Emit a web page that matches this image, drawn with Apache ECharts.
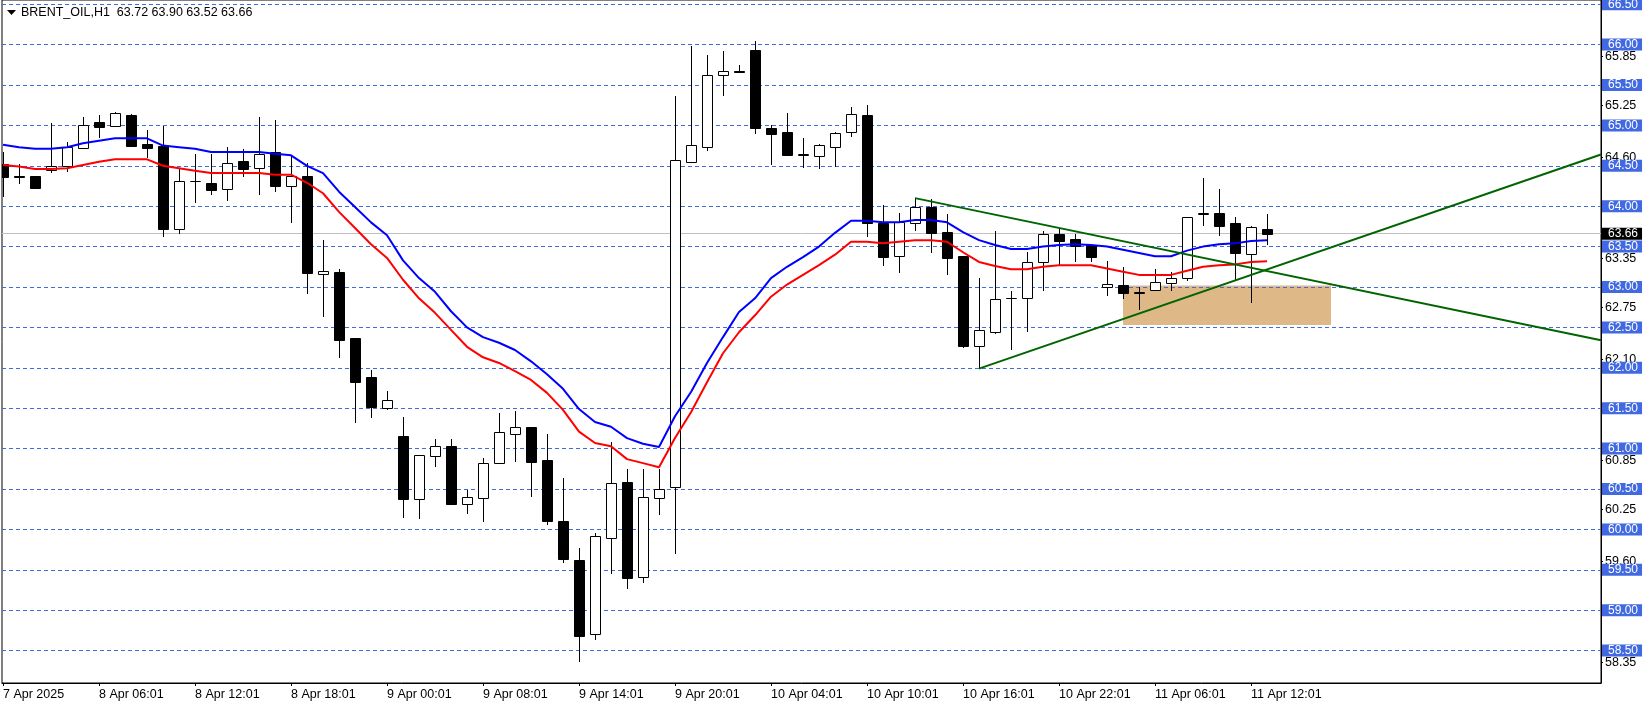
<!DOCTYPE html>
<html><head><meta charset="utf-8">
<script src="https://cdn.jsdelivr.net/npm/echarts@6/dist/echarts.min.js"></script>
<style>html,body{margin:0;padding:0;background:#fff}#c{width:1651px;height:707px}</style>
</head><body><div id="c"></div>
<script>
const symbolName = 'BRENT_OIL,H1';
const lastOHLC = [63.72, 63.90, 63.52, 63.66];
const opens = [64.52,64.37,64.37,64.45,64.50,64.72,65.04,64.99,65.13,64.77,
64.75,63.72,64.31,64.29,64.21,64.56,64.47,64.67,64.25,64.37,
63.16,63.19,62.37,61.89,61.50,61.16,60.38,60.91,61.03,60.31,
60.39,60.82,61.18,61.27,60.86,60.10,59.62,58.71,59.89,60.59,
59.41,60.39,60.52,64.55,64.73,65.62,65.67,65.93,64.97,64.92,
64.63,64.62,64.73,64.92,65.13,63.79,63.38,63.79,63.99,63.68,
63.38,62.27,62.44,62.86,62.86,63.31,63.66,63.60,63.52,63.00,
63.02,62.93,62.96,63.05,63.11,63.90,63.92,63.79,63.41,63.72];
const highs = [64.67,64.52,64.37,65.03,64.79,65.10,65.13,65.16,65.14,64.94,
64.99,64.47,64.64,64.64,64.73,64.71,65.10,65.07,64.62,64.53,
63.58,63.22,62.37,61.97,61.71,61.39,60.92,61.12,61.12,60.49,
60.88,61.44,61.47,61.27,61.18,60.64,59.77,59.95,61.08,60.75,
60.75,60.75,65.36,65.98,65.87,65.92,65.75,66.04,65.00,65.15,
64.84,64.77,64.92,65.23,65.25,64.02,63.92,64.10,64.09,63.90,
63.38,63.11,63.69,62.95,63.43,63.69,63.73,63.65,63.52,63.32,
63.25,63.00,63.22,63.19,63.87,64.35,64.21,63.87,63.75,63.90];
const lows = [64.11,64.28,64.21,64.41,64.42,64.72,64.85,64.98,64.75,64.60,
63.62,63.65,64.04,64.14,64.07,64.36,64.14,64.17,63.79,62.91,
62.63,62.12,61.32,61.38,61.48,60.14,60.13,60.77,60.30,60.19,
60.09,60.81,60.83,60.40,60.06,59.59,58.36,58.63,59.45,59.26,
59.34,60.18,59.70,64.55,64.68,65.36,65.65,64.89,64.51,64.62,
64.47,64.46,64.49,64.86,63.62,63.26,63.17,63.69,63.42,63.15,
62.25,61.99,62.42,62.22,62.44,62.95,63.27,63.31,63.31,62.89,
62.85,62.72,62.95,62.95,63.07,63.75,63.63,63.09,62.80,63.52];
const closes = [64.36,64.36,64.22,64.50,64.73,65.00,64.98,65.15,64.75,64.72,
63.72,64.31,64.31,64.20,64.54,64.46,64.64,64.25,64.37,63.17,
63.20,62.34,61.82,61.51,61.60,60.38,60.92,61.03,60.31,60.40,
60.82,61.21,61.27,60.83,60.10,59.63,58.68,59.92,60.57,59.40,
60.40,60.50,64.57,64.76,65.62,65.67,65.66,64.97,64.89,64.63,
64.64,64.76,64.91,65.14,63.79,63.37,63.80,63.99,63.67,63.36,
62.27,62.47,62.85,62.86,63.31,63.66,63.57,63.51,63.37,63.04,
62.93,62.94,63.06,63.11,63.87,63.91,63.75,63.42,63.74,63.66];
const maBlue = [64.76,64.73,64.71,64.71,64.73,64.78,64.81,64.84,64.84,64.84,
64.75,64.73,64.71,64.67,64.67,64.67,64.67,64.65,64.63,64.50,
64.41,64.18,63.99,63.80,63.64,63.33,63.11,62.94,62.70,62.50,
62.38,62.31,62.22,62.08,61.92,61.74,61.49,61.33,61.27,61.13,
61.06,61.02,61.40,61.70,62.06,62.38,62.69,62.86,63.11,63.25,
63.37,63.50,63.67,63.82,63.82,63.80,63.80,63.83,63.83,63.80,
63.68,63.58,63.52,63.47,63.47,63.50,63.52,63.53,63.52,63.50,
63.46,63.42,63.38,63.38,63.45,63.50,63.53,63.54,63.57,63.58];
const maRed = [64.51,64.49,64.46,64.46,64.47,64.51,64.55,64.58,64.58,64.58,
64.50,64.47,64.44,64.41,64.41,64.41,64.41,64.39,64.39,64.29,
64.16,63.93,63.73,63.53,63.36,63.09,62.86,62.68,62.47,62.26,
62.13,62.06,61.96,61.85,61.69,61.48,61.21,61.07,61.03,60.87,
60.82,60.77,61.13,61.45,61.82,62.18,62.44,62.65,62.88,63.03,
63.15,63.27,63.40,63.56,63.56,63.54,63.56,63.58,63.58,63.56,
63.43,63.31,63.26,63.22,63.22,63.25,63.27,63.27,63.27,63.23,
63.19,63.15,63.15,63.15,63.20,63.25,63.27,63.28,63.31,63.32];
const timeLabels = ['7 Apr 2025','8 Apr 06:01','8 Apr 12:01','8 Apr 18:01','9 Apr 00:01','9 Apr 08:01','9 Apr 14:01','9 Apr 20:01','10 Apr 04:01','10 Apr 10:01','10 Apr 16:01','10 Apr 22:01','11 Apr 06:01','11 Apr 12:01'];
const timeLabelBars = [0,6,12,18,24,30,36,42,48,54,60,66,72,78];
const levelLines = [58.5,59.0,59.5,60.0,60.5,61.0,61.5,62.0,62.5,63.0,63.5,64.0,64.5,65.0,65.5,66.0,66.5];
const priceAxisLabels = [58.35,59.60,60.25,60.85,62.10,62.75,63.35,64.60,65.25,65.85];
const currentPrice = 63.66;
const zoneBox = [[70, 63.02], [83, 62.53]];
const trendDown = [[57, 64.10], [99.875, 62.34]];
const trendUp = [[61, 61.99], [99.875, 64.64]];

const FONT = '"Liberation Sans", Arial, sans-serif';
const candleData = opens.map((o, i) => [i, o, closes[i], lows[i], highs[i]]);

function renderCandle(params, api) {
  const i = api.value(0), o = api.value(1), c = api.value(2), l = api.value(3), h = api.value(4);
  const pO = api.coord([i, o]), pC = api.coord([i, c]), pH = api.coord([i, h]), pL = api.coord([i, l]);
  const x = Math.round(pO[0]);
  const bull = c >= o;
  const top = Math.round(Math.min(pO[1], pC[1])), bot = Math.round(Math.max(pO[1], pC[1]));
  return {
    type: 'group',
    children: [
      { type: 'line', shape: { x1: x + 0.5, y1: Math.round(pH[1]), x2: x + 0.5, y2: Math.round(pL[1]) },
        style: { stroke: '#000', lineWidth: 1 } },
      { type: 'rect', shape: { x: x - 5 + 0.5, y: top + 0.5, width: 10, height: Math.max(bot - top, 0) },
        style: { fill: bull ? '#fff' : '#000', stroke: '#000', lineWidth: 1 } }
    ]
  };
}

const boxLabel = (bg) => ({
  show: true, position: 'end', distance: 1, formatter: p => Number(p.value).toFixed(2),
  color: '#fff', backgroundColor: bg, padding: [1, 4, 0, 6], fontSize: 12, lineHeight: 11, fontFamily: FONT
});

const chart = echarts.init(document.getElementById('c'), null, { renderer: 'canvas' });
chart.setOption({
  animation: false,
  backgroundColor: '#fff',
  grid: { left: 2, right: 50, top: 0, bottom: 24, show: true, borderColor: '#000', borderWidth: 1, backgroundColor: 'transparent', outerBoundsMode: 'none' },
  xAxis: {
    type: 'value', min: -0.0625, max: 99.875,
    splitLine: { show: false },
    axisLine: { show: true, onZero: false, lineStyle: { color: '#000', width: 1 } },
    axisTick: { show: true, length: 3, lineStyle: { color: '#000' }, customValues: timeLabelBars },
    axisLabel: {
      customValues: timeLabelBars, align: 'left', margin: 5, color: '#000', fontSize: 12.5, fontFamily: FONT,
      formatter: v => { const k = timeLabelBars.indexOf(Math.round(v)); return k >= 0 ? timeLabels[k] : ''; }
    }
  },
  yAxis: {
    type: 'value', position: 'right', min: 58.099, max: 66.552, scale: true,
    splitLine: { show: false },
    axisLine: { show: true, onZero: false, lineStyle: { color: '#000', width: 1 } },
    axisTick: { show: true, length: 2, lineStyle: { color: '#000' }, customValues: priceAxisLabels },
    axisLabel: { customValues: priceAxisLabels, margin: 4, color: '#000', fontSize: 12.5, fontFamily: FONT,
      formatter: v => v.toFixed(2) }
  },
  graphic: [
    { type: 'polygon', left: 7, top: 10, shape: { points: [[0, 0], [9, 0], [4.5, 5]] }, style: { fill: '#000' } },
    { type: 'text', left: 21, top: 6, style: { text: symbolName + '  ' + lastOHLC.map(v => v.toFixed(2)).join(' '), fill: '#000', font: '12.5px ' + FONT } }
  ],
  series: [
    {
      name: 'zone', type: 'line', data: [], z: 1, silent: true,
      markArea: { silent: true, itemStyle: { color: '#DEB887', opacity: 1 },
        data: [[{ xAxis: zoneBox[0][0], yAxis: zoneBox[0][1] }, { xAxis: zoneBox[1][0], yAxis: zoneBox[1][1] }]] },
      markLine: {
        silent: true, symbol: 'none', z: 1,
        lineStyle: { color: '#4169E1', type: [4, 3], width: 1 },
        label: boxLabel('#4169E1'),
        data: levelLines.map(v => ({ yAxis: v }))
      }
    },
    {
      name: 'bid', type: 'line', data: [], z: 1, silent: true,
      markLine: {
        silent: true, symbol: 'none', z: 1,
        lineStyle: { color: '#C0C0C0', type: 'solid', width: 1 },
        label: boxLabel('#000'),
        data: [{ yAxis: currentPrice }]
      }
    },
    {
      name: 'candles', type: 'custom', z: 3, clip: true, renderItem: renderCandle,
      encode: { x: 0, y: [1, 2, 3, 4] }, data: candleData
    },
    { name: 'maBlue', type: 'line', z: 4, symbol: 'none', smooth: false, clip: true,
      lineStyle: { color: '#0000FF', width: 2 }, data: maBlue.map((v, i) => [i, v]) },
    { name: 'maRed', type: 'line', z: 4, symbol: 'none', smooth: false, clip: true,
      lineStyle: { color: '#FF0000', width: 2 }, data: maRed.map((v, i) => [i, v]) },
    { name: 'trendDown', type: 'line', z: 5, symbol: 'none', clip: true,
      lineStyle: { color: '#006400', width: 2 }, data: trendDown },
    { name: 'trendUp', type: 'line', z: 5, symbol: 'none', clip: true,
      lineStyle: { color: '#006400', width: 2 }, data: trendUp }
  ]
});
</script>
</body></html>
